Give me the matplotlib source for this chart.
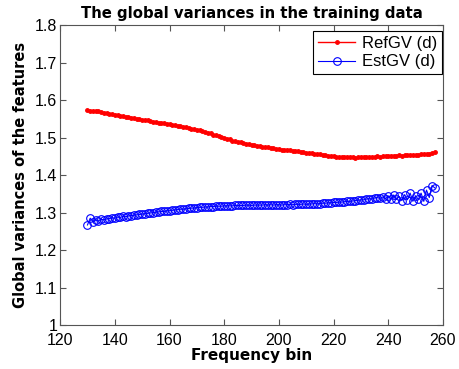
import matplotlib.pyplot as plt
import numpy as np

# frequency bins 130..257
bins = np.arange(130, 258)

ref_gv = [
    1.573, 1.572, 1.571, 1.570, 1.570, 1.567, 1.566, 1.565, 1.563, 1.562, 1.560, 1.560, 1.558, 1.557, 1.555, 1.556,
    1.553, 1.551, 1.550, 1.549, 1.548, 1.546, 1.546, 1.544, 1.542, 1.541, 1.540, 1.539, 1.538, 1.537, 1.535, 1.534,
    1.533, 1.531, 1.530, 1.529, 1.527, 1.525, 1.524, 1.522, 1.520, 1.519, 1.517, 1.515, 1.513, 1.511, 1.508, 1.506,
    1.504, 1.502, 1.500, 1.497, 1.495, 1.492, 1.490, 1.488, 1.487, 1.485, 1.484, 1.482, 1.481, 1.480, 1.478, 1.477,
    1.476, 1.475, 1.474, 1.472, 1.471, 1.470, 1.469, 1.468, 1.467, 1.467, 1.466, 1.465, 1.464, 1.463, 1.462, 1.461,
    1.460, 1.459, 1.458, 1.457, 1.456, 1.455, 1.454, 1.453, 1.452, 1.451, 1.450, 1.449, 1.449, 1.448, 1.448, 1.447,
    1.447, 1.447, 1.446, 1.447, 1.447, 1.448, 1.447, 1.448, 1.448, 1.449, 1.450, 1.449, 1.450, 1.451, 1.451, 1.452,
    1.452, 1.452, 1.453, 1.452, 1.453, 1.453, 1.454, 1.453, 1.454, 1.454, 1.455, 1.455, 1.456, 1.457, 1.459, 1.461,
]

est_gv = [
    1.267, 1.285, 1.275, 1.280, 1.278, 1.282, 1.281, 1.283, 1.284, 1.286, 1.285, 1.288, 1.287, 1.290, 1.289, 1.291,
    1.292, 1.293, 1.294, 1.295, 1.296, 1.297, 1.298, 1.299, 1.300, 1.301, 1.302, 1.303, 1.303, 1.305, 1.305, 1.306,
    1.307, 1.308, 1.309, 1.309, 1.310, 1.311, 1.312, 1.312, 1.313, 1.314, 1.314, 1.315, 1.315, 1.316, 1.316, 1.317,
    1.317, 1.317, 1.318, 1.318, 1.318, 1.318, 1.319, 1.319, 1.319, 1.319, 1.320, 1.320, 1.319, 1.320, 1.320, 1.320,
    1.320, 1.321, 1.320, 1.321, 1.320, 1.321, 1.321, 1.320, 1.321, 1.321, 1.322, 1.321, 1.322, 1.322, 1.322, 1.323,
    1.322, 1.323, 1.323, 1.324, 1.323, 1.324, 1.325, 1.325, 1.326, 1.326, 1.327, 1.327, 1.328, 1.328, 1.329, 1.330,
    1.330, 1.331, 1.332, 1.333, 1.334, 1.334, 1.336, 1.337, 1.336, 1.339, 1.340, 1.338, 1.342, 1.337, 1.344, 1.336,
    1.347, 1.335, 1.343, 1.332, 1.348, 1.334, 1.352, 1.330, 1.345, 1.335, 1.352, 1.330, 1.360, 1.340, 1.372, 1.366,
]

plt.rcParams["font.family"] = ["Liberation Sans", "DejaVu Sans"]

fig = plt.figure(figsize=(4.59, 3.69), dpi=100)
ax = fig.add_axes([0.131, 0.119, 0.834, 0.813])

ax.plot(bins, ref_gv, color="red", marker=".", markersize=5, linewidth=1, label="RefGV (d)")
ax.plot(bins, est_gv, color="blue", marker="o", markersize=5.5, markerfacecolor="none",
        markeredgewidth=0.8, linewidth=0.8, label="EstGV (d)")

ax.set_xlim(120, 260)
ax.set_ylim(1, 1.8)
ax.set_xticks(np.arange(120, 261, 20))
ax.set_yticks(np.arange(1, 1.81, 0.1))
ax.set_yticklabels(["1", "1.1", "1.2", "1.3", "1.4", "1.5", "1.6", "1.7", "1.8"])

ax.tick_params(direction="in", top=True, right=True, length=4, color="#555555",
               labelsize=11.5)
ax.tick_params(axis="x", pad=6)
ax.tick_params(axis="y", pad=2)
for s in ax.spines.values():
    s.set_color("#555555")

ax.set_title("The global variances in the training data", fontsize=10.7,
             fontweight="bold", family="DejaVu Sans", pad=5)
ax.set_xlabel("Frequency bin", fontsize=11, fontweight="bold", family="DejaVu Sans", labelpad=0)
ax.set_ylabel("Global variances of the features", fontsize=10.5, fontweight="bold",
              family="DejaVu Sans", labelpad=5)

leg = ax.legend(loc="upper right", bbox_to_anchor=(0.997, 0.98), fontsize=12,
                fancybox=False, framealpha=1, edgecolor="black", handlelength=2.2,
                borderaxespad=0, labelspacing=0.2, handletextpad=0.4, borderpad=0.3)
leg.get_frame().set_linewidth(0.8)

plt.savefig("out.png", dpi=100)
